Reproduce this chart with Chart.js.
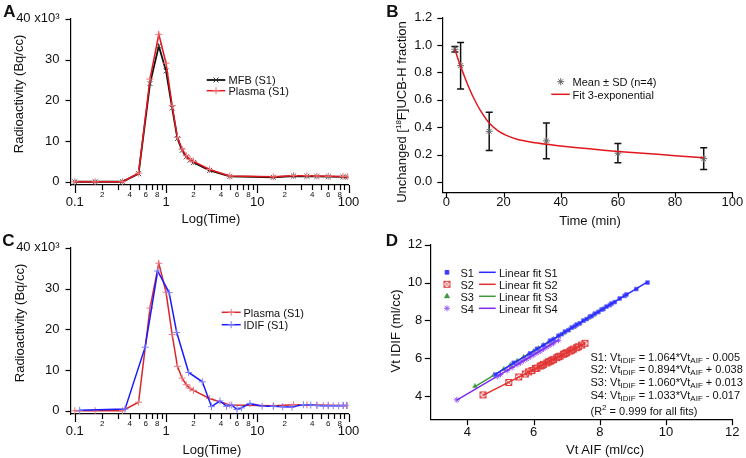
<!DOCTYPE html>
<html><head><meta charset="utf-8">
<script src="https://cdn.jsdelivr.net/npm/chart.js@4.4.0/dist/chart.umd.min.js"></script>
<style>
html,body{margin:0;padding:0;background:#fff;}
body{width:746px;height:458px;position:relative;overflow:hidden;font-family:"Liberation Sans",Arial,Helvetica,sans-serif;color:#111;}
canvas{position:absolute;}
.t{position:absolute;white-space:nowrap;line-height:1;}
.c{transform:translate(-50%,-50%);}
.r{transform:translate(-50%,-50%) rotate(-90deg);}
.l{transform:translateY(-50%);}
.lab{font-weight:bold;font-size:17px;}
.ax{font-size:13px;}
.lg{font-size:11px;}
.eq{font-size:11px;}
sub{font-size:8px;vertical-align:-2px;line-height:0;}
sup{font-size:8px;vertical-align:5px;line-height:0;}
</style></head>
<body>
<canvas id="cA" width="373" height="229" style="left:0;top:0"></canvas>
<canvas id="cB" width="373" height="229" style="left:373px;top:0"></canvas>
<canvas id="cC" width="373" height="229" style="left:0;top:229px"></canvas>
<canvas id="cD" width="373" height="229" style="left:373px;top:229px"></canvas>

<div class="t lab c" style="left:9.5px;top:11px">A</div>
<div class="t lab c" style="left:392.5px;top:11px">B</div>
<div class="t lab c" style="left:8.5px;top:240px">C</div>
<div class="t lab c" style="left:392px;top:240px">D</div>

<div class="t ax r" style="left:18px;top:94px">Radioactivity (Bq/cc)</div>
<div class="t ax c" style="left:211px;top:218px">Log(Time)</div>
<div class="t ax r" style="left:401px;top:112px">Unchanged [<sup>18</sup>F]UCB-H fraction</div>
<div class="t ax c" style="left:590px;top:220px">Time (min)</div>
<div class="t ax r" style="left:19px;top:323px">Radioactivity (Bq/cc)</div>
<div class="t ax c" style="left:212px;top:449px">Log(Time)</div>
<div class="t ax r" style="left:395px;top:331px">Vt IDIF (ml/cc)</div>
<div class="t ax c" style="left:605px;top:449px">Vt AIF (ml/cc)</div>

<div class="t lg l" style="left:228.5px;top:80px">MFB (S1)</div>
<div class="t lg l" style="left:228.5px;top:91px">Plasma (S1)</div>
<div class="t lg l" style="left:572.5px;top:82px">Mean ± SD (n=4)</div>
<div class="t lg l" style="left:572.5px;top:94.5px">Fit 3-exponential</div>
<div class="t lg l" style="left:243.5px;top:312.5px">Plasma (S1)</div>
<div class="t lg l" style="left:243.5px;top:325px">IDIF (S1)</div>

<div class="t lg l" style="left:460.5px;top:272.5px">S1</div>
<div class="t lg l" style="left:460.5px;top:284.5px">S2</div>
<div class="t lg l" style="left:460.5px;top:296.5px">S3</div>
<div class="t lg l" style="left:460.5px;top:308.5px">S4</div>
<div class="t lg l" style="left:499px;top:272.5px">Linear fit S1</div>
<div class="t lg l" style="left:499px;top:284.5px">Linear fit S2</div>
<div class="t lg l" style="left:499px;top:296.5px">Linear fit S3</div>
<div class="t lg l" style="left:499px;top:308.5px">Linear fit S4</div>

<div class="t eq l" style="left:590.5px;top:356.5px">S1: Vt<sub>IDIF</sub> = 1.064*Vt<sub>AIF</sub> - 0.005</div>
<div class="t eq l" style="left:590.5px;top:369px">S2: Vt<sub>IDIF</sub> = 0.894*Vt<sub>AIF</sub> + 0.038</div>
<div class="t eq l" style="left:590.5px;top:381.7px">S3: Vt<sub>IDIF</sub> = 1.060*Vt<sub>AIF</sub> + 0.013</div>
<div class="t eq l" style="left:590.5px;top:394.5px">S4: Vt<sub>IDIF</sub> = 1.033*Vt<sub>AIF</sub> - 0.017</div>
<div class="t eq l" style="left:590.5px;top:410.5px">(R<sup>2</sup> = 0.999 for all fits)</div>

<script>
// ---------------- DATA ----------------
// Panels A & C: time (min) and radioactivity (x10^3 Bq/cc)
const timeS1   = [0.1, 0.167, 0.333, 0.5, 0.667, 0.833, 1.0, 1.167, 1.333, 1.5, 1.667, 1.833, 2.0, 3, 5, 15, 25, 35, 45, 60, 87, 98];
const mfbS1    = [0, 0, 0, 2.0, 24.1, 33.3, 27.2, 18.1, 10.6, 7.7, 6.1, 5.3, 4.7, 2.8, 1.3, 1.1, 1.4, 1.35, 1.3, 1.25, 1.2, 1.15];
const plasmaS1 = [0, 0, 0, 2.1, 25.2, 36.2, 29.1, 18.7, 10.9, 8.0, 6.4, 5.5, 5.0, 3.0, 1.4, 1.2, 1.5, 1.45, 1.4, 1.35, 1.3, 1.25];
const timeIdif = [0.113, 0.355, 0.59, 0.81, 1.08, 1.31, 1.77, 2.5, 3.15, 3.9, 4.6, 5.25, 6.0, 6.7, 8.3, 11.3, 15, 19, 24, 32, 38.6, 45, 53, 60, 68, 78, 88, 95];
const idifS1   = [0.1, 0.4, 15.6, 34.3, 29.0, 19.2, 9.4, 7.1, 1.0, 2.4, 1.1, 1.4, 0.3, 0.7, 1.8, 1.1, 1.1, 1.0, 0.9, 1.5, 1.4, 1.3, 1.2, 1.2, 1.2, 1.2, 1.3, 1.3];

// Panel B: unchanged fraction
const timeMet = [3, 5, 15, 35, 60, 90];
const meanMet = [0.97, 0.85, 0.37, 0.30, 0.21, 0.17];
const sdMet   = [0.02, 0.17, 0.14, 0.13, 0.07, 0.08];
const timeFit = [3, 4, 5, 6, 8, 10, 12, 15, 18, 21, 25, 30, 35, 40, 50, 60, 70, 80, 90];
const valFit  = [0.97, 0.905, 0.845, 0.79, 0.685, 0.595, 0.52, 0.43, 0.375, 0.34, 0.31, 0.29, 0.275, 0.262, 0.242, 0.223, 0.207, 0.192, 0.176];

// Panel D: Vt AIF vs Vt IDIF
const s1x = [4.85,5.4,5.9,6.1,6.3,6.5,6.6,6.75,6.85,6.95,7.05,7.15,7.25,7.3,7.4,7.5,7.6,7.7,7.75,7.85,7.95,8.05,8.1,8.2,8.3,8.35,8.45,8.6,8.75,8.8,9.1,9.44];
const s1y = [5.13,5.76,6.25,6.50,6.68,6.93,7.00,7.19,7.27,7.41,7.48,7.62,7.70,7.78,7.85,7.99,8.07,8.20,8.23,8.36,8.44,8.57,8.60,8.73,8.81,8.89,8.97,9.16,9.30,9.37,9.66,10.0];
const s2x = [4.47,5.25,5.55,5.75,5.85,5.95,6.05,6.1,6.2,6.25,6.3,6.4,6.45,6.5,6.55,6.6,6.7,6.75,6.8,6.9,6.95,7.0,7.1,7.15,7.2,7.3,7.35,7.45,7.55];
const s2y = [4.06,4.72,5.01,5.17,5.28,5.35,5.46,5.48,5.59,5.62,5.68,5.75,5.81,5.84,5.90,5.93,6.03,6.08,6.11,6.21,6.25,6.30,6.38,6.43,6.48,6.56,6.61,6.70,6.79];
const s3x = [4.23,4.8,5.1,5.3,5.5,5.7,5.85,6.0,6.15,6.3,6.45,6.6,6.75,6.9,7.05,7.2,7.35,7.5,7.65,7.8,7.95,8.1];
const s3y = [4.52,5.11,5.42,5.64,5.85,6.06,6.22,6.37,6.53,6.70,6.85,7.01,7.17,7.33,7.49,7.64,7.81,7.96,8.12,8.28,8.44,8.60];
const s4x = [3.68,4.9,5.0,5.2,5.35,5.5,5.6,5.7,5.8,5.9,6.0,6.1,6.2,6.3,6.4,6.5,6.6,6.75];
const s4y = [3.80,5.04,5.15,5.35,5.51,5.67,5.76,5.88,5.97,6.08,6.18,6.29,6.38,6.49,6.60,6.70,6.80,6.95];
const fit1x = [4.85, 9.44], fit1y = [5.155, 10.04];
const fit2x = [4.47, 7.55], fit2y = [4.034, 6.788];
const fit3x = [4.23, 8.1],  fit3y = [4.497, 8.599];
const fit4x = [3.68, 6.75], fit4y = [3.784, 6.956];

// Tick values and labels
const logTickValues = [0.1,0.2,0.3,0.4,0.5,0.6,0.7,0.8,0.9,1,2,3,4,5,6,7,8,9,10,20,30,40,50,60,70,80,90,100];
const logTickLabels = ['0.1','2','','4','','6','','8','','1','2','','4','','6','','8','','10','2','','4','','6','','8','','100'];
const logMajor = [0.1, 1, 10, 100];
const radTickValues = [0, 10, 20, 30, 40];
const radTickLabels = ['0', '10', '20', '30', '40 x10³'];
const fracTickValues = [0, 0.2, 0.4, 0.6, 0.8, 1.0, 1.2];
const fracTickLabels = ['0.0', '0.2', '0.4', '0.6', '0.8', '1.0', '1.2'];
const minTickValues = [0, 20, 40, 60, 80, 100];
const minTickLabels = ['0', '20', '40', '60', '80', '100'];
const vtTickValues = [4, 6, 8, 10, 12];
const vtTickLabels = ['4', '6', '8', '10', '12'];

// ---------------- HELPERS ----------------
const FF = '"Liberation Sans", Arial, Helvetica, sans-serif';
const pts = (xs, ys) => xs.map((x, i) => ({x: x, y: ys[i]}));

function boxX(color) {
  const c = document.createElement('canvas'); c.width = 9; c.height = 9;
  const g = c.getContext('2d'); g.strokeStyle = color; g.lineWidth = 1;
  g.strokeRect(1.5, 1.5, 6, 6);
  g.beginPath(); g.moveTo(1.5, 1.5); g.lineTo(7.5, 7.5); g.moveTo(7.5, 1.5); g.lineTo(1.5, 7.5); g.stroke();
  return c;
}
const s2Marker = boxX('#e23b3b');

const tickMarks = {
  id: 'tickMarks',
  afterDraw(chart, args, opts) {
    const ctx = chart.ctx; ctx.save();
    ctx.strokeStyle = '#000'; ctx.lineWidth = 1.2;
    Object.values(chart.scales).forEach(s => {
      const conf = opts[s.id]; if (!conf) return;
      s.ticks.forEach(t => {
        const len = t.major ? conf.major : conf.minor;
        const p = Math.round(s.getPixelForValue(t.value)) + 0.5;
        ctx.beginPath();
        if (s.isHorizontal()) { ctx.moveTo(p, s.top); ctx.lineTo(p, s.top + len); }
        else { ctx.moveTo(s.right, p); ctx.lineTo(s.right - len, p); }
        ctx.stroke();
      });
    });
    ctx.restore();
  }
};

const legendGlyphs = {
  id: 'legendGlyphs',
  afterDraw(chart, args, opts) {
    const ctx = chart.ctx;
    (opts.items || []).forEach(it => {
      ctx.save();
      if (it.line) {
        ctx.strokeStyle = it.line.color; ctx.lineWidth = it.line.width;
        ctx.beginPath(); ctx.moveTo(it.line.x1, it.y); ctx.lineTo(it.line.x2, it.y); ctx.stroke();
      }
      if (it.marker) {
        const m = it.marker;
        ctx.strokeStyle = m.color; ctx.fillStyle = m.fill || m.color; ctx.lineWidth = m.width || 1;
        Chart.helpers.drawPoint(ctx, {pointStyle: m.style, radius: m.r, rotation: 0, borderWidth: m.width || 1}, it.mx, it.y);
      }
      ctx.restore();
    });
  }
};
Chart.register(tickMarks, legendGlyphs);

function setTicks(vals, majors) {
  return s => { s.ticks = vals.map(v => ({value: v, major: majors ? majors.includes(v) : true})); };
}
function baseScale(o) {
  return Object.assign({
    grid: {display: false, drawOnChartArea: false, drawTicks: false},
    border: {display: true, color: '#000', width: 1.2},
  }, o);
}
function yScale(min, max, vals, labels, width, pad) {
  return baseScale({
    type: 'linear', position: 'left', min: min, max: max,
    afterBuildTicks: setTicks(vals),
    afterFit: s => { s.width = width; },
    ticks: {autoSkip: false, padding: pad, color: '#111', font: {family: FF, size: 13},
      callback: (v, i) => labels[i]}
  });
}
function xLinScale(min, max, vals, labels, height, pad) {
  return baseScale({
    type: 'linear', position: 'bottom', min: min, max: max,
    afterBuildTicks: setTicks(vals),
    afterFit: s => { s.height = height; },
    ticks: {autoSkip: false, maxRotation: 0, minRotation: 0, padding: pad, color: '#111', font: {family: FF, size: 13},
      callback: (v, i) => labels[i]}
  });
}
function xLogScale() {
  return baseScale({
    type: 'logarithmic', position: 'bottom', min: 0.0897, max: 100,
    afterBuildTicks: setTicks(logTickValues, logMajor),
    afterFit: s => { s.height = 44; },
    ticks: {autoSkip: false, maxRotation: 0, minRotation: 0, padding: 4, color: '#111',
      font: c => (c.tick && c.tick.major) ? {family: FF, size: 13, lineHeight: 2.08} : {family: FF, size: 8, lineHeight: 1.5},
      callback: (v, i) => logTickLabels[i]}
  });
}
function common(padRight, padTop, plugins) {
  return {
    responsive: false, animation: false, devicePixelRatio: 1, events: [],
    layout: {padding: {left: 0, top: padTop, right: padRight, bottom: 0}},
    plugins: Object.assign({legend: {display: false}, tooltip: {enabled: false}}, plugins)
  };
}

// ---------------- PANEL A ----------------
new Chart(document.getElementById('cA'), {
  type: 'line',
  data: {datasets: [
    {label: 'Plasma (S1)', data: pts(timeS1, plasmaS1), order: 0, borderColor: '#e3161e', borderWidth: 1.5,
     pointStyle: 'cross', pointRadius: 3.5, pointBorderColor: '#f07075', pointBorderWidth: 1, fill: false, tension: 0},
    {label: 'MFB (S1)', data: pts(timeS1, mfbS1), order: 1, borderColor: '#111', borderWidth: 1.8,
     pointStyle: 'crossRot', pointRadius: 3.5, pointBorderColor: '#555', pointBorderWidth: 1, fill: false, tension: 0}
  ]},
  options: Object.assign(common(24.5, 14, {
    tickMarks: {x: {major: 8, minor: 5}, y: {major: 5, minor: 5}},
    legendGlyphs: {items: [
      {y: 80, line: {x1: 206.7, x2: 225.3, color: '#111', width: 1.8}, mx: 216, marker: {style: 'crossRot', r: 3.5, color: '#333'}},
      {y: 90.7, line: {x1: 206.7, x2: 225.3, color: '#e3161e', width: 1.5}, mx: 216, marker: {style: 'cross', r: 3.5, color: '#f07075'}}
    ]}
  }), {scales: {x: xLogScale(), y: yScale(-0.8, 40, radTickValues, radTickLabels, 70.5, 11)}})
});

// ---------------- PANEL B ----------------
const errLines = [];
const errCaps = [];
timeMet.forEach((t, i) => {
  errLines.push({x: t, y: meanMet[i] - sdMet[i]}, {x: t, y: meanMet[i] + sdMet[i]}, {x: t, y: null});
  errCaps.push({x: t, y: meanMet[i] - sdMet[i]}, {x: t, y: meanMet[i] + sdMet[i]});
});
new Chart(document.getElementById('cB'), {
  type: 'line',
  data: {datasets: [
    {label: 'Fit 3-exponential', data: pts(timeFit, valFit), order: 0, borderColor: '#e3161e', borderWidth: 1.5, pointRadius: 0, tension: 0.3, fill: false},
    {label: 'Mean ± SD (n=4)', data: pts(timeMet, meanMet), order: 1, showLine: false, pointStyle: 'star', pointRadius: 3.5,
     pointBorderColor: '#666', pointBorderWidth: 1},
    {label: 'err', data: errLines, order: 2, borderColor: '#111', borderWidth: 1.5, pointRadius: 0, spanGaps: false, fill: false},
    {label: 'caps', data: errCaps, order: 2, showLine: false, pointStyle: 'line', pointRadius: 3.5, pointBorderColor: '#111', pointBorderWidth: 1.5}
  ]},
  options: Object.assign(common(13.7, 14, {
    tickMarks: {x: {major: 5, minor: 5}, y: {major: 5, minor: 5}},
    legendGlyphs: {items: [
      {y: 81.7, mx: 187.7, marker: {style: 'star', r: 3.5, color: '#666'}},
      {y: 94.3, line: {x1: 178.3, x2: 196.7, color: '#e3161e', width: 1.5}}
    ]}
  }), {scales: {
    x: xLinScale(-1.4, 100, minTickValues, minTickLabels, 36.3, 2),
    y: yScale(-0.079, 1.2, fracTickValues, fracTickLabels, 69.3, 10)
  }})
});

// ---------------- PANEL C ----------------
new Chart(document.getElementById('cC'), {
  type: 'line',
  data: {datasets: [
    {label: 'IDIF (S1)', data: pts(timeIdif, idifS1), order: 0, borderColor: '#1a1aff', borderWidth: 1.5,
     pointStyle: 'cross', pointRadius: 3.5, pointBorderColor: '#7f7fff', pointBorderWidth: 1, fill: false, tension: 0},
    {label: 'Plasma (S1)', data: pts(timeS1, plasmaS1), order: 1, borderColor: '#d8272d', borderWidth: 1.5,
     pointStyle: 'cross', pointRadius: 3.5, pointBorderColor: '#ee7a7e', pointBorderWidth: 1, fill: false, tension: 0}
  ]},
  options: Object.assign(common(24.5, 14, {
    tickMarks: {x: {major: 8, minor: 5}, y: {major: 5, minor: 5}},
    legendGlyphs: {items: [
      {y: 83.3, line: {x1: 221.7, x2: 240.7, color: '#d8272d', width: 1.5}, mx: 231.2, marker: {style: 'cross', r: 3.5, color: '#ee7a7e'}},
      {y: 95.7, line: {x1: 221.7, x2: 240.7, color: '#1a1aff', width: 1.5}, mx: 231.2, marker: {style: 'cross', r: 3.5, color: '#7f7fff'}}
    ]}
  }), {scales: {x: xLogScale(), y: yScale(-0.8, 40, radTickValues, radTickLabels, 70.5, 11)}})
});

// ---------------- PANEL D ----------------
const cS1 = '#2a2aff', cS2 = '#e03030', cS3 = '#3f963f', cS4 = '#7d2cf0';
new Chart(document.getElementById('cD'), {
  type: 'line',
  data: {datasets: [
    {label: 'Linear fit S1', data: pts(fit1x, fit1y), order: 0, borderColor: cS1, borderWidth: 1.5, pointRadius: 0},
    {label: 'S1', data: pts(s1x, s1y), order: 1, showLine: false, pointStyle: 'rect', pointRadius: 2.6, pointBackgroundColor: '#3b3bff', pointBorderColor: '#6b6bff', pointBorderWidth: 0.8},
    {label: 'Linear fit S4', data: pts(fit4x, fit4y), order: 2, borderColor: cS4, borderWidth: 1.5, pointRadius: 0},
    {label: 'S4', data: pts(s4x, s4y), order: 3, showLine: false, pointStyle: 'star', pointRadius: 3, pointBorderColor: '#9a5cf5', pointBorderWidth: 1},
    {label: 'Linear fit S3', data: pts(fit3x, fit3y), order: 4, borderColor: cS3, borderWidth: 1.5, pointRadius: 0},
    {label: 'S3', data: pts(s3x, s3y), order: 5, showLine: false, pointStyle: 'triangle', pointRadius: 2.8, pointBackgroundColor: '#3f963f', pointBorderColor: '#5aae5a', pointBorderWidth: 0.6},
    {label: 'Linear fit S2', data: pts(fit2x, fit2y), order: 6, borderColor: cS2, borderWidth: 1.5, pointRadius: 0},
    {label: 'S2', data: pts(s2x, s2y), order: 7, showLine: false, pointStyle: s2Marker, pointRadius: 4}
  ]},
  options: Object.assign(common(13.7, 14, {
    tickMarks: {x: {major: 5.5, minor: 5.5}, y: {major: 5.5, minor: 5.5}},
    legendGlyphs: {items: [
      {y: 43.3, mx: 74, marker: {style: 'rect', r: 2.6, color: '#3b3bff'}, line: {x1: 106, x2: 122.7, color: cS1, width: 1.5}},
      {y: 55.3, mx: 74, marker: {style: s2Marker, r: 4, color: cS2}, line: {x1: 106, x2: 122.7, color: cS2, width: 1.5}},
      {y: 67.3, mx: 74, marker: {style: 'triangle', r: 2.8, color: cS3}, line: {x1: 106, x2: 122.7, color: cS3, width: 1.5}},
      {y: 79.3, mx: 74, marker: {style: 'star', r: 3, color: '#9a5cf5'}, line: {x1: 106, x2: 122.7, color: cS4, width: 1.5}}
    ]}
  }), {scales: {
    x: xLinScale(2.88, 12, vtTickValues, vtTickLabels, 38.3, 5),
    y: yScale(2.75, 12, vtTickValues, vtTickLabels, 57.3, 8)
  }})
});
</script>
</body></html>
